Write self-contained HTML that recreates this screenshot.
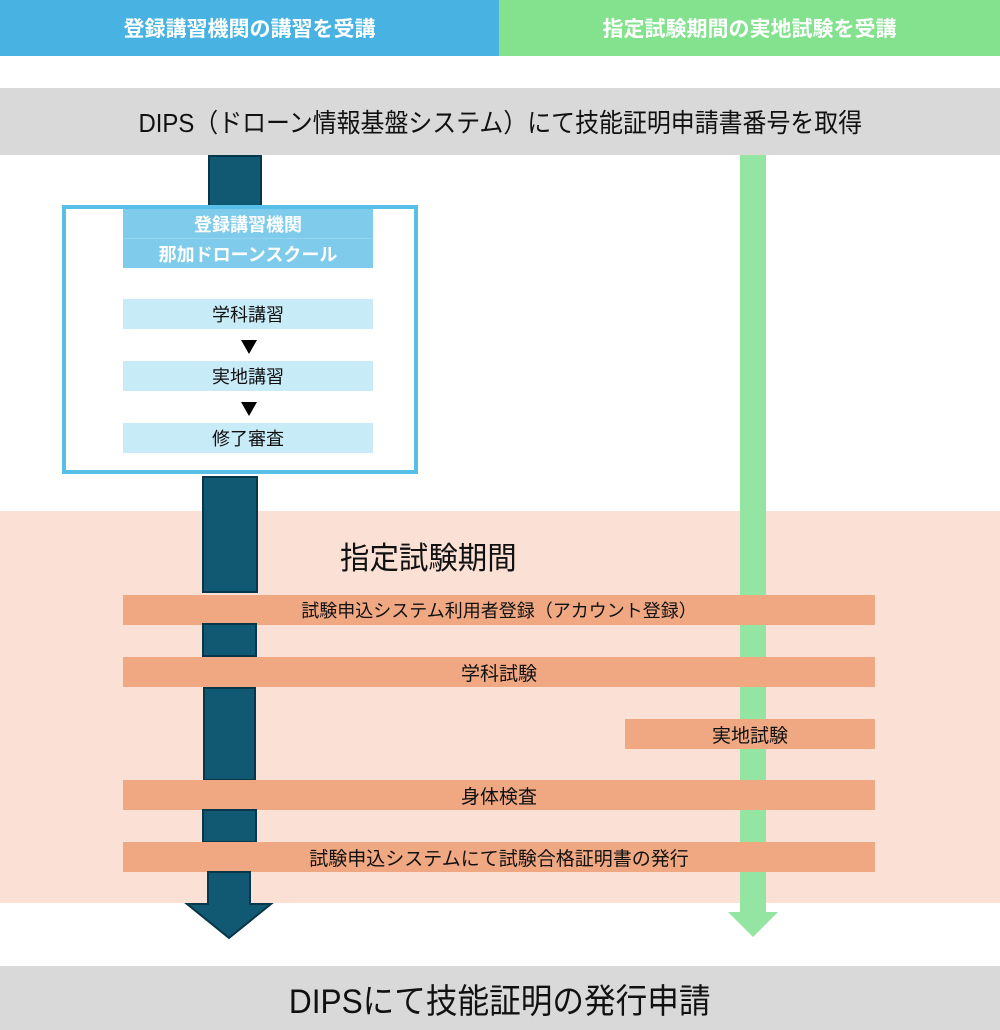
<!DOCTYPE html>
<html><head><meta charset="utf-8"><style>
*{margin:0;padding:0;box-sizing:border-box}
body{width:1000px;height:1030px;position:relative;background:#fff;font-family:"Liberation Sans","Noto Sans CJK JP",sans-serif;overflow:hidden}
.a{position:absolute}
.c{display:flex;align-items:center;justify-content:center;white-space:nowrap}
.seg{position:absolute;background:#115872;border:2px solid #07374a}
.ob{position:absolute;background:#f0a883;color:#111;font-size:19px;height:30px}
.lb{position:absolute;left:123px;width:250px;height:30px;background:#c8ebf8;color:#111;font-size:18px}
.tri{position:absolute;left:241px;width:0;height:0;border-left:8px solid transparent;border-right:8px solid transparent;border-top:14px solid #000}
</style></head><body>
<div class="a c" style="left:0;top:0;width:499px;height:56px;background:#48b3e2;color:#fff;font-size:21px;font-weight:bold">登録講習機関の講習を受講</div>
<div class="a c" style="left:499px;top:0;width:501px;height:56px;background:#84e28f;color:#fff;font-size:21px;font-weight:bold">指定試験期間の実地試験を受講</div>
<div class="a c" style="left:0;top:88px;width:1000px;height:67px;background:#d9d9d9;color:#111;font-size:26px"><span style="display:inline-block;transform:scaleX(0.92)">DIPS（ドローン情報基盤システム）にて技能証明申請書番号を取得</span></div>

<div class="a" style="left:0;top:511px;width:1000px;height:392px;background:#fbe1d5"></div>
<div class="a" style="left:740px;top:155px;width:26px;height:760px;background:#94e4a2"></div>
<svg class="a" style="left:726px;top:910px" width="54" height="30"><polygon points="2,2 52,2 27,27" fill="#94e4a2"/></svg>

<div class="seg" style="left:208px;top:155px;width:54px;height:53px"></div>
<div class="a" style="left:62px;top:205px;width:356px;height:269px;border:4px solid #58c0e7"></div>
<div class="a c" style="left:123px;top:209px;width:250px;height:29px;background:#7fcbeb;color:#fff;font-size:18px;font-weight:bold">登録講習機関</div>
<div class="a c" style="left:123px;top:238px;width:250px;height:30px;background:#7fcbeb;color:#fff;font-size:18px;font-weight:bold;border-top:1px solid #94d4ef">那加ドローンスクール</div>
<div class="lb c" style="top:299px">学科講習</div>
<div class="tri" style="top:340px"></div>
<div class="lb c" style="top:361px">実地講習</div>
<div class="tri" style="top:402px"></div>
<div class="lb c" style="top:423px">修了審査</div>

<div class="seg" style="left:202px;top:476px;width:56px;height:117px"></div>
<div class="a" style="left:340px;top:533px;font-size:31px;color:#111;white-space:nowrap"><span style="display:inline-block;transform:scaleX(0.95);transform-origin:left">指定試験期間</span></div>
<div class="ob c" style="left:123px;top:595px;width:752px;font-size:18px">試験申込システム利用者登録（アカウント登録）</div>
<div class="seg" style="left:202px;top:623px;width:55px;height:34px"></div>
<div class="ob c" style="left:123px;top:657px;width:752px">学科試験</div>
<div class="seg" style="left:203px;top:687px;width:53px;height:94px"></div>
<div class="ob c" style="left:625px;top:719px;width:250px">実地試験</div>
<div class="ob c" style="left:123px;top:780px;width:752px">身体検査</div>
<div class="seg" style="left:202px;top:809px;width:55px;height:34px"></div>
<div class="ob c" style="left:123px;top:842px;width:752px">試験申込システムにて試験合格証明書の発行</div>
<svg class="a" style="left:184px;top:871px" width="90" height="70"><polygon points="24,1 66,1 66,33 87,33 45,67 3,33 24,33" fill="#115872" stroke="#07374a" stroke-width="2"/></svg>

<div class="a c" style="left:0;top:966px;width:1000px;height:64px;background:#d9d9d9;color:#111;font-size:34px"><span style="display:inline-block;transform:scaleX(0.93)">DIPSにて技能証明の発行申請</span></div>
</body></html>
